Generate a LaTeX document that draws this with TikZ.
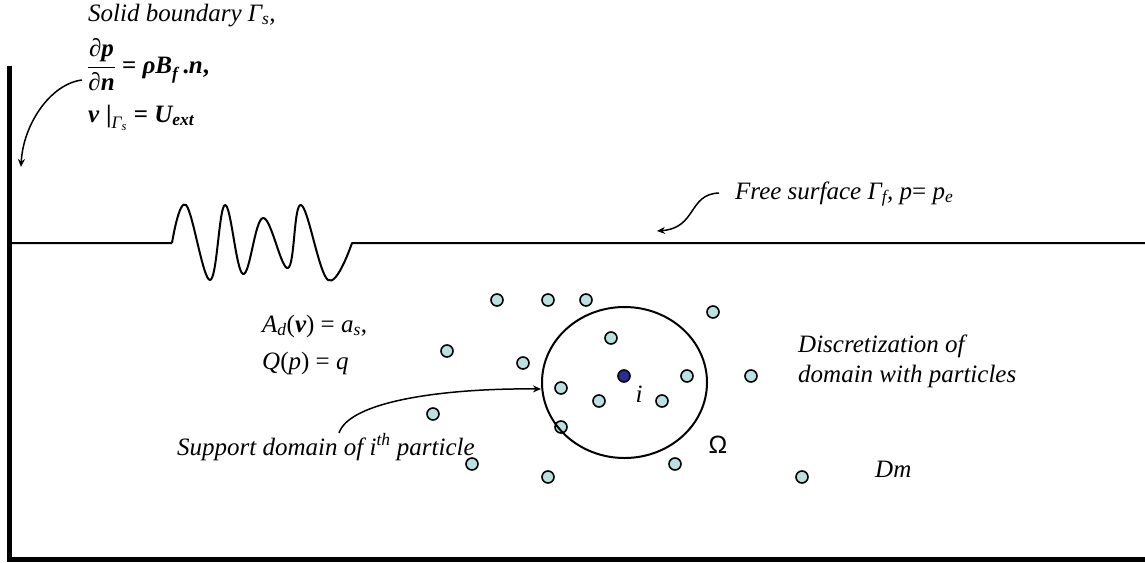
\documentclass[tikz,border=0pt]{standalone}
\usepackage{amsmath}
\usepackage{fontspec}
\setmainfont{Liberation Serif}
\newfontfamily\sansO{Liberation Sans}
\usetikzlibrary{arrows.meta,shapes.geometric}
\definecolor{pcyan}{RGB}{186,224,224}
\definecolor{pblue}{RGB}{44,44,150}
\newcommand{\ti}[1]{\text{\itshape #1}}
\newcommand{\tbi}[1]{\text{\bfseries\itshape #1}}
\newcommand{\tb}[1]{\text{\bfseries #1}}
\newcommand{\tr}[1]{\text{\upshape #1}}
\begin{document}
\begin{tikzpicture}[x=1pt,y=-1pt,
  particle/.style={circle,draw=black,line width=1.6pt,fill=pcyan,minimum size=12pt,inner sep=0pt},
  lbl/.style={inner sep=0pt,font=\fontsize{25}{30}\selectfont},
  arr/.style={line width=1.5pt,-{Stealth[length=8pt,width=7pt]}}]
\useasboundingbox (0,0) rectangle (1145,562);
% container
\draw[line width=5pt,line join=miter] (9.5,66) -- (9.5,559.5) -- (1150,559.5);
% free surface with wave
\draw[line width=2pt,line join=round] (12,243) -- (172,243)
  plot[smooth,tension=0.65] coordinates {(172,243) (186,205) (210,280) (225,205) (243,274) (263,218) (288,268) (301,205) (328,280) (352,243)}
  -- (1145,243);
% particles
\foreach \n/\px/\py in {1/497/300,2/548/300,3/586/300,4/713/312,5/447/351,6/523/363,7/611/338,
  8/687/376,9/751/376,10/561/388,11/599/401,12/662/401,13/433/414,14/561/427,
  15/472/464,16/548/477,17/675/464,18/802/477}
  \node[particle] (p\n) at (\px,\py) {};
\node[particle,fill=pblue] (pi) at (624,376) {};
% support domain
\node[ellipse,draw,line width=2pt,minimum width=165pt,minimum height=151pt,inner sep=0pt] (support) at (624.5,382.5) {};
% labels
\node[lbl,anchor=base west] (solid) at (88,21) {\itshape Solid boundary \textit{Γ}$_{\ti{s}}$,};
\node[lbl,anchor=west] (bc1) at (87,65) {$\dfrac{\tb{∂}\tbi{p}}{\tb{∂}\tbi{n}}\tb{ = }\tbi{ρB}_{\tbi{f}}\,\tb{.}\tbi{n}\tb{,}$};
\node[lbl,anchor=base west] (bc2) at (88,122) {$\tbi{v}\;\tb{|}_{\ti{Γ}_{\ti{s}}}\tb{ = }\tbi{U}_{\tbi{ext}}$};
\node[lbl,anchor=base west] (free) at (735,199) {\itshape Free surface \textit{Γ}$_{\ti{f}}$, \textit{p}\upshape= \textit{p}$_{\ti{e}}$};
\node[lbl,anchor=base west] (eq1) at (262,332) {$\ti{A}_{\ti{d}}\tr{(}\tbi{v}\tr{) = }\ti{a}_{\ti{s}}\tr{,}$};
\node[lbl,anchor=base west] (eq2) at (262,369) {$\ti{Q}\tr{(}\ti{p}\tr{) = }\ti{q}$};
\node[lbl,anchor=base west,align=left] (disc) at (798,382) {\itshape Discretization of\\\itshape domain with particles};
\node[lbl,anchor=base west] (dm) at (875,477) {\itshape Dm};
\node[lbl,anchor=base] (ilbl) at (639,402) {\itshape i};
\node[lbl,anchor=base] (omega) at (718,453) {\sansO Ω};
\node[lbl,anchor=base west] (supp) at (177,455) {\itshape Support domain of i\textsuperscript{th} particle};
% connectors
\coordinate (sbs) at (82,80);
\coordinate (sbe) at (21,167);
\draw[arr] (sbs) .. controls (50,84) and (23,125) .. (sbe);
\coordinate (fss) at (719,193);
\coordinate (fse) at (657,231);
\draw[arr] (fss) .. controls (688,194) and (697,228) .. (fse);
\coordinate (sds) at (339,433);
\draw[arr] (sds) .. controls (350,400) and (450,388) .. (support.west |- 0,389);
\end{tikzpicture}
\end{document}
